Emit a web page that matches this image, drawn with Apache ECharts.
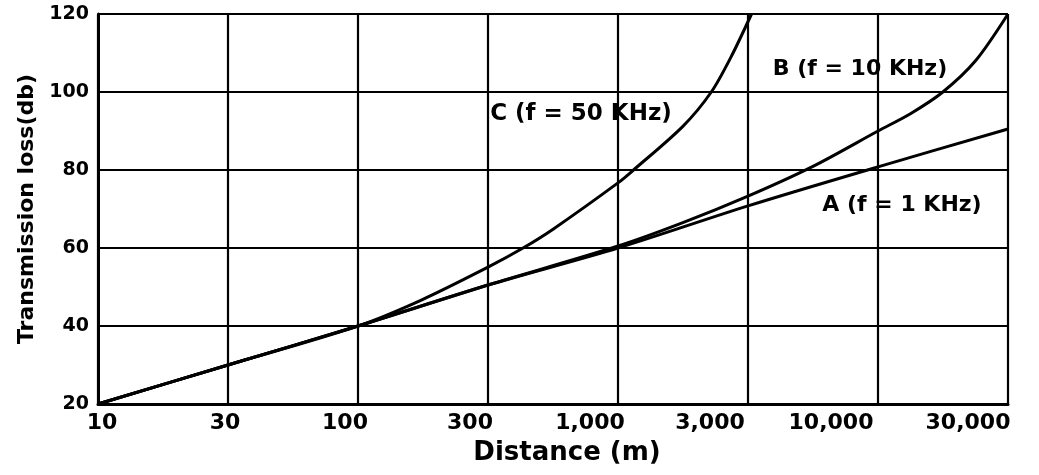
<!DOCTYPE html>
<html>
<head>
<meta charset="utf-8">
<script src="https://cdn.jsdelivr.net/npm/echarts@6/dist/echarts.min.js"></script>
<style>html,body{margin:0;padding:0;background:#fff}#c{width:1039px;height:475px}</style>
</head>
<body>
<div id="c"></div>
<script>
// Tick values of the distance axis (evenly spaced on the chart)
const xTicks = [10, 30, 100, 300, 1000, 3000, 10000, 30000];
const xTickLabels = ['10', '30', '100', '300', '1,000', '3,000', '10,000', '30,000'];
const yTicks = [20, 40, 60, 80, 100, 120];

// Curve A (f = 1 KHz)
const distA = [10, 30, 100, 300, 1000, 3000, 10000, 30000];
const lossA = [20, 30, 40, 50.5, 60, 70.8, 80.8, 90.5];
// Curve B (f = 10 KHz)
const distB = [10, 30, 100, 300, 1000, 1730, 3000, 5500, 10000, 13200, 17300, 22800, 30000];
const lossB = [20, 30, 40, 50.5, 60.5, 66.5, 73.3, 81, 90, 94.5, 100, 108, 120];
// Curve C (f = 50 KHz)
const distC = [10, 30, 100, 170, 300, 415, 550, 1000, 1140, 1730, 2200, 2600, 3100];
const lossC = [20, 30, 40, 46.6, 55.1, 60, 64.9, 76.7, 80, 91.2, 100, 109, 120];

const seriesLabels = ['A (f = 1 KHz)', 'B (f = 10 KHz)', 'C (f = 50 KHz)'];

// The distance axis places its ticks evenly; between ticks it is logarithmic.
function axisPos(d) {
  for (let i = 0; i < xTicks.length - 1; i++) {
    if (d <= xTicks[i + 1] || i === xTicks.length - 2) {
      return i + Math.log(d / xTicks[i]) / Math.log(xTicks[i + 1] / xTicks[i]);
    }
  }
}
function pairs(ds, vs) { return ds.map((d, i) => [axisPos(d), vs[i]]); }

const FONT = 'DejaVu Sans';
// horizontal nudges of tick labels as in the original print
const labelShift = [4, -3, -13, -18, -28, -38, -47, -40];
const rich = {};
labelShift.forEach((s, i) => {
  rich['t' + i] = {
    fontFamily: FONT, fontWeight: 'bold', fontSize: 22, color: '#000',
    padding: [0, s < 0 ? -2 * s : 0, 0, s > 0 ? 2 * s : 0]
  };
});

const chart = echarts.init(document.getElementById('c'));
const lineStyle = { color: '#000', width: 3 };
chart.setOption({
  animation: false,
  backgroundColor: '#fff',
  grid: { left: 98, right: 31, top: 14, bottom: 71 },
  xAxis: {
    type: 'value', min: 0, max: xTicks.length - 1, interval: 1,
    name: 'Distance (m)', nameLocation: 'middle', nameGap: 36,
    nameTextStyle: { fontFamily: FONT, fontWeight: 'bold', fontSize: 26, color: '#000', padding: [0, 0, 0, 28] },
    axisLine: { lineStyle: { color: '#000', width: 3 } },
    axisTick: { show: false },
    splitLine: { show: true, lineStyle: { color: '#000', width: 2.2 } },
    axisLabel: {
      margin: 8,
      formatter: (v) => '{t' + v + '|' + xTickLabels[v] + '}',
      rich: rich
    }
  },
  yAxis: {
    type: 'value', min: yTicks[0], max: yTicks[yTicks.length - 1], interval: 20,
    name: 'Transmission loss(db)', nameLocation: 'middle', nameGap: 60,
    nameTextStyle: { fontFamily: FONT, fontWeight: 'bold', fontSize: 22, color: '#000' },
    axisLine: { show: true, lineStyle: { color: '#000', width: 3 } },
    axisTick: { show: false },
    splitLine: { show: true, lineStyle: { color: '#000', width: 2.2 } },
    axisLabel: { margin: 9, fontFamily: FONT, fontWeight: 'bold', fontSize: 19, color: '#000' }
  },
  series: [
    { name: seriesLabels[0], type: 'line', data: pairs(distA, lossA), smooth: 0.3, showSymbol: false, lineStyle: lineStyle, clip: true },
    { name: seriesLabels[1], type: 'line', data: pairs(distB, lossB), smooth: 0.3, showSymbol: false, lineStyle: lineStyle, clip: true },
    { name: seriesLabels[2], type: 'line', data: pairs(distC, lossC), smooth: 0.3, showSymbol: false, lineStyle: lineStyle, clip: true }
  ],
  graphic: [
    { type: 'text', x: 581, y: 114, style: { text: seriesLabels[2], fill: '#000', font: 'bold 23px "DejaVu Sans"', textAlign: 'center', textVerticalAlign: 'middle' } },
    { type: 'text', x: 860, y: 69, style: { text: seriesLabels[1], fill: '#000', font: 'bold 22px "DejaVu Sans"', textAlign: 'center', textVerticalAlign: 'middle' } },
    { type: 'text', x: 902, y: 205, style: { text: seriesLabels[0], fill: '#000', font: 'bold 22px "DejaVu Sans"', textAlign: 'center', textVerticalAlign: 'middle' } }
  ]
});
</script>
</body>
</html>
